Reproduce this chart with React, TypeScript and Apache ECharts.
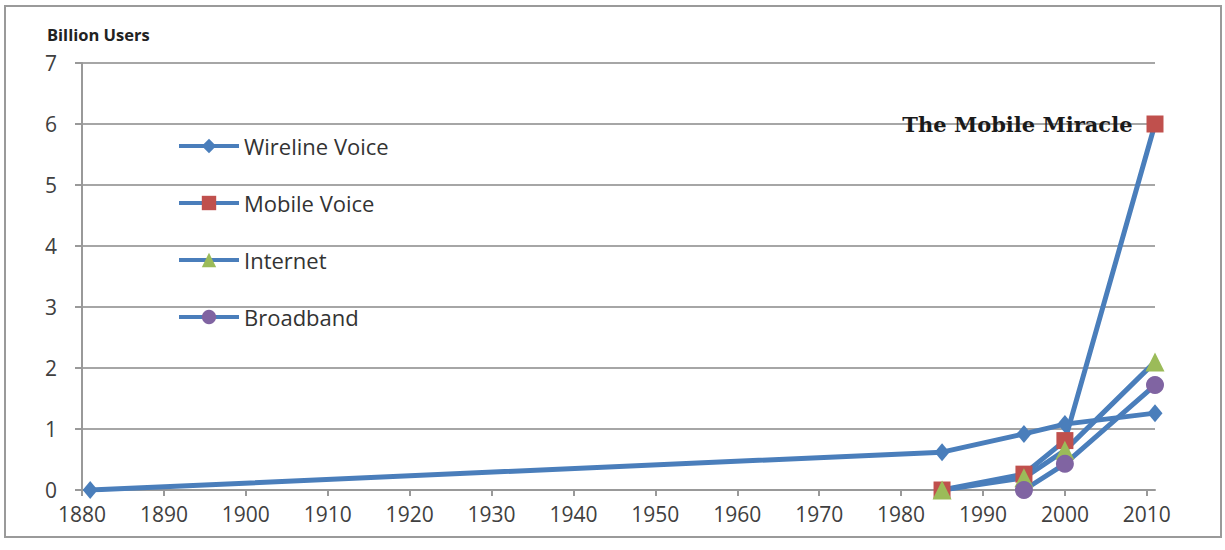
import React, { useEffect, useRef } from "react";
import * as echarts from "echarts";

// Years on the horizontal axis that carry a tick and a label
const yearTicks = [1880, 1890, 1900, 1910, 1920, 1930, 1940, 1950, 1960, 1970, 1980, 1990, 2000, 2010];

// Subscribers, billions
const wirelineYears = [1881, 1985, 1995, 2000, 2011];
const wirelineUsers = [0, 0.62, 0.92, 1.08, 1.26];

const mobileYears = [1985, 1995, 2000, 2011];
const mobileUsers = [0, 0.26, 0.81, 6];

const internetYears = [1985, 1995, 2000, 2011];
const internetUsers = [0, 0.2, 0.65, 2.1];

const broadbandYears = [1995, 2000, 2011];
const broadbandUsers = [0, 0.43, 1.72];

const seriesNames = ["Wireline Voice", "Mobile Voice", "Internet", "Broadband"];
const callout = "The Mobile Miracle";

const LINE = "#4a7ebb";
const FONT = "'Open Sans', 'Noto Sans', sans-serif";

const pairs = (xs: number[], ys: number[]) => xs.map((x, i) => [x, ys[i]]);

export default function App() {
  const ref = useRef<HTMLDivElement>(null);

  useEffect(() => {
    if (!ref.current) return;
    const chart = echarts.init(ref.current, null, { renderer: "svg" });

    const lineSeries = (
      name: string,
      data: any[],
      symbol: string,
      size: number | number[],
      fill: string
    ) => ({
      name,
      type: "line",
      data,
      symbol,
      symbolSize: size,
      lineStyle: { color: LINE, width: 5 },
      itemStyle: { color: fill, borderWidth: 0 },
    });

    const mobileData = pairs(mobileYears, mobileUsers).map((d, i, arr) =>
      i === arr.length - 1
        ? {
            value: d,
            label: {
              show: true,
              position: "left",
              distance: 14,
              formatter: callout,
              fontFamily: "'DejaVu Serif', 'Liberation Serif', serif",
              fontWeight: "bold",
              fontSize: 21,
              color: "#1a1a1a",
            },
          }
        : d
    );

    chart.setOption({
      animation: false,
      backgroundColor: "#ffffff",
      title: {
        text: "Billion Users",
        left: 42,
        top: 21,
        textStyle: { fontFamily: FONT, fontSize: 16.5, fontWeight: "bold", color: "#222" },
      },
      grid: { left: 82, right: 70, top: 63, bottom: 60 },
      legend: {
        orient: "vertical",
        left: 172,
        top: 130,
        itemWidth: 60,
        itemHeight: 18,
        itemGap: 35,
        data: seriesNames,
        lineStyle: { width: 4 },
        textStyle: { fontFamily: FONT, fontSize: 22, color: "#333" },
      },
      xAxis: {
        type: "value",
        min: 1880,
        max: 2011,
        interval: 10,
        splitLine: { show: false },
        axisLine: { lineStyle: { color: "#999", width: 2 } },
        axisTick: { show: true, length: 6, customValues: yearTicks, lineStyle: { color: "#999", width: 2 } },
        axisLabel: {
          customValues: yearTicks,
          formatter: (v: number) => String(v),
          margin: 13,
          fontFamily: FONT,
          fontSize: 21,
          color: "#404040",
        },
      },
      yAxis: {
        type: "value",
        min: 0,
        max: 7,
        interval: 1,
        splitLine: { lineStyle: { color: "#a6a6a6", width: 2 } },
        axisLine: { show: true, lineStyle: { color: "#999", width: 2 } },
        axisTick: { show: true, length: 7, lineStyle: { color: "#999", width: 2 } },
        axisLabel: { margin: 25, fontFamily: FONT, fontSize: 21, color: "#404040" },
      },
      graphic: [
        {
          type: "rect",
          shape: { x: 5, y: 6, width: 1216, height: 531 },
          style: { fill: "none", stroke: "#9a9a9a", lineWidth: 2 },
          silent: true,
        },
      ],
      series: [
        lineSeries(seriesNames[0], pairs(wirelineYears, wirelineUsers), "diamond", [15, 18], "#4a7ebb"),
        lineSeries(seriesNames[1], mobileData, "rect", 17, "#c0504d"),
        lineSeries(seriesNames[2], pairs(internetYears, internetUsers), "triangle", 19, "#9bbb59"),
        lineSeries(seriesNames[3], pairs(broadbandYears, broadbandUsers), "circle", 18, "#8064a2"),
      ],
    });

    return () => chart.dispose();
  }, []);

  return (
    <div
      ref={ref}
      style={{ position: "fixed", left: 0, top: 0, width: 1225, height: 550 }}
    />
  );
}
